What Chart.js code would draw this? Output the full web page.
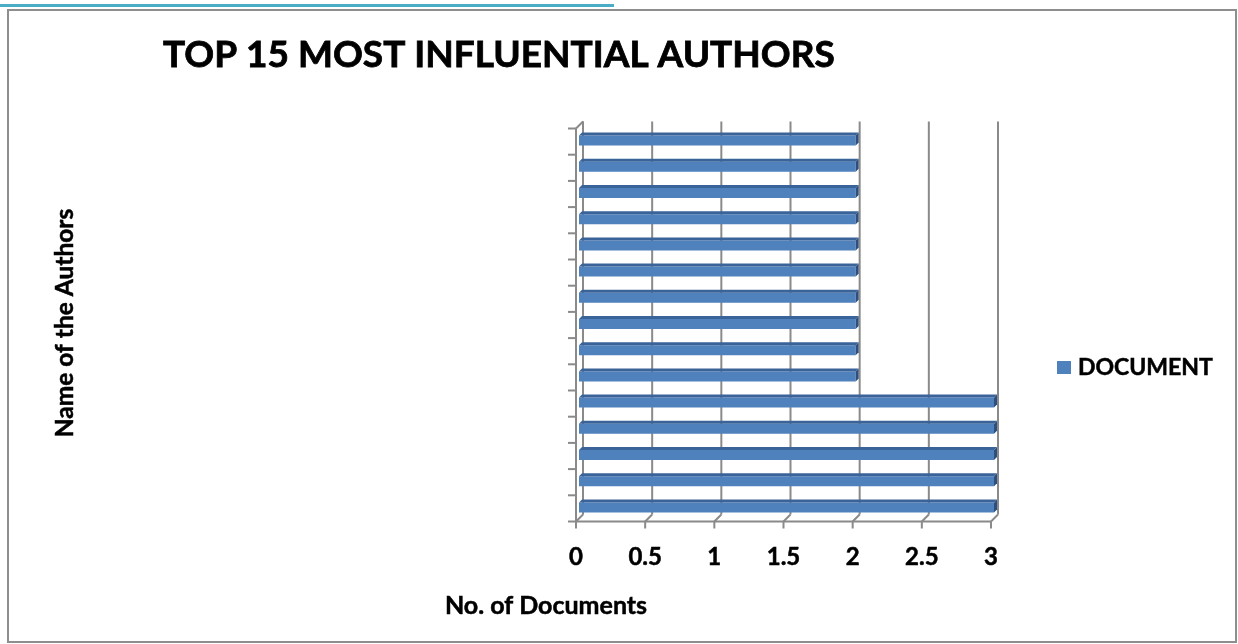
<!DOCTYPE html>
<html>
<head>
<meta charset="utf-8">
<title>Top 15 most influential authors</title>
<script src="https://cdn.jsdelivr.net/npm/chart.js@4.4.0/dist/chart.umd.min.js"></script>
<style>
  html, body { margin: 0; padding: 0; background: #fff; }
  #wrap { width: 1238px; height: 644px; }
</style>
</head>
<body>
<div id="wrap"><canvas id="chart" width="1238" height="644"></canvas></div>
<script>
// author names are left blank on the axis
var authorLabels = ['', '', '', '', '', '', '', '', '', '', '', '', '', '', ''];
var documentCounts = [2, 2, 2, 2, 2, 2, 2, 2, 2, 2, 3, 3, 3, 3, 3];
var countTicks = [0, 0.5, 1, 1.5, 2, 2.5, 3];

var chartTitle = 'TOP 15 MOST INFLUENTIAL AUTHORS';
var xAxisTitle = 'No. of Documents';
var yAxisTitle = 'Name of the Authors';
var seriesName = 'DOCUMENT';

var barFront = '#4F81BD';
var barTop = '#3A639A';
var barSide = '#2C4F7F';
var gridColor = '#8A8A8A';
var fontFamily = 'Lato, "Open Sans", sans-serif';

// oblique offsets of the front edge and the back wall, relative to the bar plane
var front = { dx: -3, dy: 1 };
var back = { dx: 4, dy: -6 };
var barDepth = 3;

function line(ctx, x1, y1, x2, y2) {
  ctx.beginPath();
  ctx.moveTo(x1, y1);
  ctx.lineTo(x2, y2);
  ctx.stroke();
}

// heavier text: fill plus a hairline stroke in the same colour
function boldText(ctx, text, x, y) {
  ctx.fillText(text, x, y);
  ctx.strokeText(text, x, y);
}

var box3d = {
  id: 'box3d',
  beforeDraw: function(chart) {
    var ctx = chart.ctx;
    ctx.save();
    ctx.fillStyle = '#fff';
    ctx.fillRect(0, 0, chart.width, chart.height);
    // frame round the chart
    ctx.strokeStyle = '#8E8E8E';
    ctx.lineWidth = 2;
    ctx.strokeRect(8, 10, 1228, 632);
    // accent rule along the top
    ctx.fillStyle = '#4BACC6';
    ctx.fillRect(0, 4, 614, 3);
    ctx.restore();
  },
  beforeDatasetsDraw: function(chart) {
    var ctx = chart.ctx, a = chart.chartArea;
    var xs = chart.scales.x, ys = chart.scales.y;
    ctx.save();
    ctx.strokeStyle = gridColor;
    ctx.lineWidth = 2;

    // left wall: front edge with category ticks, back edge, top corner
    var lf = a.left + front.dx, lb = a.left + back.dx;
    line(ctx, lf, a.top + front.dy, lf, a.bottom + front.dy + 1);
    line(ctx, lb, a.top + back.dy, lb, a.bottom + back.dy);
    line(ctx, lf, a.top + front.dy, lb, a.top + back.dy);
    var step = ys.getPixelForValue(1) - ys.getPixelForValue(0);
    for (var i = 0; i <= authorLabels.length; i++) {
      var yb = ys.getPixelForValue(i) - step / 2 + front.dy;
      line(ctx, lf - 8, yb, lf, yb);
    }

    // floor front edge, floor slants and back wall gridlines
    line(ctx, lf, a.bottom + front.dy, a.right + front.dx, a.bottom + front.dy);
    countTicks.forEach(function(v) {
      var xp = xs.getPixelForValue(v);
      line(ctx, xp + front.dx, a.bottom + front.dy, xp + back.dx, a.bottom + back.dy);
      line(ctx, xp + back.dx, a.bottom + back.dy, xp + back.dx, a.top + back.dy);
      line(ctx, xp + front.dx, a.bottom + front.dy, xp + front.dx, a.bottom + front.dy + 7);
    });
    ctx.restore();
  },
  afterDatasetsDraw: function(chart) {
    var ctx = chart.ctx;
    var meta = chart.getDatasetMeta(0);
    ctx.save();
    meta.data.forEach(function(bar) {
      var p = bar.getProps(['x', 'y', 'base', 'height'], true);
      var x0 = p.base, x1 = p.x;
      var top = p.y - p.height / 2, bottom = p.y + p.height / 2;
      // top face
      ctx.fillStyle = barTop;
      ctx.beginPath();
      ctx.moveTo(x0, top);
      ctx.lineTo(x0 + barDepth, top - barDepth);
      ctx.lineTo(x1 + barDepth, top - barDepth);
      ctx.lineTo(x1, top);
      ctx.closePath();
      ctx.fill();
      // end face
      ctx.fillStyle = barSide;
      ctx.beginPath();
      ctx.moveTo(x1, top);
      ctx.lineTo(x1 + barDepth, top - barDepth);
      ctx.lineTo(x1 + barDepth, bottom - barDepth);
      ctx.lineTo(x1, bottom);
      ctx.closePath();
      ctx.fill();
    });
    ctx.restore();
  },
  afterDraw: function(chart) {
    var ctx = chart.ctx;
    ctx.save();
    ctx.fillStyle = '#000';
    ctx.strokeStyle = '#000';
    ctx.lineWidth = 0.8;
    ctx.textBaseline = 'middle';

    ctx.font = 'bold 37px ' + fontFamily;
    ctx.textAlign = 'left';
    boldText(ctx, chartTitle, 163, 55);

    ctx.lineWidth = 0.5;
    ctx.font = 'bold 25px ' + fontFamily;
    ctx.textAlign = 'center';
    boldText(ctx, xAxisTitle, 546, 606);

    ctx.save();
    ctx.font = 'bold 24.5px ' + fontFamily;
    ctx.translate(65, 323);
    ctx.rotate(-Math.PI / 2);
    boldText(ctx, yAxisTitle, 0, 0);
    ctx.restore();

    // legend
    var ds = chart.data.datasets[0];
    ctx.fillStyle = ds.backgroundColor;
    ctx.fillRect(1057, 361, 14, 13);
    ctx.fillStyle = '#000';
    ctx.font = 'bold 23px ' + fontFamily;
    ctx.textAlign = 'left';
    boldText(ctx, ds.label, 1078, 368);
    ctx.restore();
  }
};

var ctx = document.getElementById('chart').getContext('2d');
var chart = new Chart(ctx, {
  type: 'bar',
  data: {
    labels: authorLabels,
    datasets: [{
      label: seriesName,
      data: documentCounts,
      backgroundColor: barFront,
      borderWidth: 0,
      barPercentage: 0.38,
      categoryPercentage: 1
    }]
  },
  options: {
    indexAxis: 'y',
    responsive: false,
    animation: false,
    layout: { padding: { top: 127.5, right: 244, bottom: 0, left: 0 } },
    plugins: {
      legend: { display: false },
      title: { display: false },
      tooltip: { enabled: false }
    },
    scales: {
      x: {
        min: 0,
        max: 3,
        grid: { display: false, drawTicks: false },
        border: { display: false },
        afterBuildTicks: function(scale) {
          scale.ticks = countTicks.map(function(v) { return { value: v }; });
        },
        afterFit: function(scale) { scale.height = 123.5; },
        ticks: {
          padding: 22,
          labelOffset: -3,
          color: '#000',
          textStrokeColor: '#000',
          textStrokeWidth: 0.5,
          font: { family: fontFamily, size: 24, weight: 'bold' },
          callback: function(v) { return String(v); }
        }
      },
      y: {
        grid: { display: false, drawTicks: false },
        border: { display: false },
        ticks: { display: false },
        afterFit: function(scale) { scale.width = 579; }
      }
    }
  },
  plugins: [box3d]
});
</script>
</body>
</html>
